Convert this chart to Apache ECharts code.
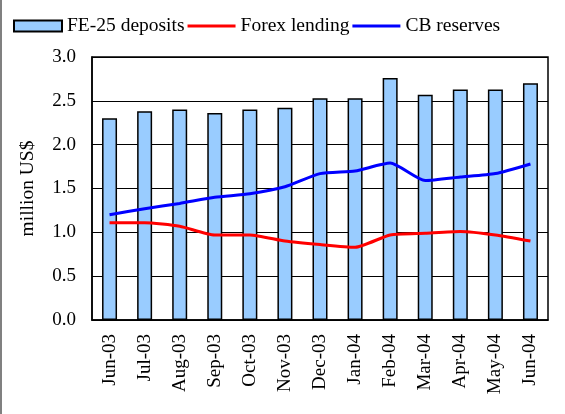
<!DOCTYPE html>
<html>
<head>
<meta charset="utf-8">
<script src="https://cdn.jsdelivr.net/npm/echarts@6/dist/echarts.min.js"></script>
<style>
    html, body { margin: 0; padding: 0; background: #fff; }
    #chart { width: 565px; height: 414px; }
</style>
</head>
<body>
<div id="chart"></div>
<script>
// 数据
var months = ['Jun-03', 'Jul-03', 'Aug-03', 'Sep-03', 'Oct-03', 'Nov-03', 'Dec-03',
    'Jan-04', 'Feb-04', 'Mar-04', 'Apr-04', 'May-04', 'Jun-04'];
var deposits = [2.30, 2.38, 2.40, 2.36, 2.40, 2.42, 2.53, 2.53, 2.76, 2.57, 2.63, 2.63, 2.70];
var forexLending = [1.11, 1.11, 1.07, 0.97, 0.97, 0.90, 0.86, 0.83, 0.97, 0.99, 1.01, 0.97, 0.90];
var cbReserves = [1.20, 1.27, 1.33, 1.40, 1.44, 1.52, 1.67, 1.70, 1.79, 1.59, 1.63, 1.67, 1.78];

var font = 'Liberation Serif';
var lineIcon = 'path://M0,0H48V3H0Z';

var option = {
    animation: false,
    legend: {
        left: 8,
        top: 11,
        itemWidth: 48,
        itemHeight: 11,
        itemGap: 3,
        textStyle: { fontFamily: font, fontSize: 19.5, color: '#000' },
        data: [
            { name: 'FE-25 deposits', icon: 'rect' },
            { name: 'Forex lending', icon: lineIcon },
            { name: 'CB reserves', icon: lineIcon }
        ]
    },
    grid: {
        left: 92,
        right: 17,
        top: 57,
        bottom: 94,
        show: true,
        borderColor: '#000',
        borderWidth: 1.5
    },
    xAxis: {
        type: 'category',
        data: months,
        axisLine: { lineStyle: { color: '#000', width: 1.5 } },
        axisTick: { length: 5, lineStyle: { color: '#000' } },
        axisLabel: {
            rotate: 90,
            margin: 14,
            fontFamily: font,
            fontSize: 19,
            color: '#000'
        }
    },
    yAxis: {
        type: 'value',
        min: 0,
        max: 3,
        interval: 0.5,
        name: 'million US$',
        nameLocation: 'middle',
        nameGap: 54,
        nameTextStyle: { fontFamily: font, fontSize: 19.5, color: '#000' },
        axisLine: { show: true, lineStyle: { color: '#000', width: 1.5 } },
        axisTick: { show: false },
        splitLine: { lineStyle: { color: '#000', width: 1 } },
        axisLabel: {
            margin: 16,
            fontFamily: font,
            fontSize: 19,
            color: '#000',
            formatter: function (v) { return v.toFixed(1); }
        }
    },
    series: [
        {
            name: 'FE-25 deposits',
            type: 'bar',
            barWidth: 15,
            data: deposits,
            itemStyle: { color: '#99CCFF', borderColor: '#000', borderWidth: 1.5 }
        },
        {
            name: 'Forex lending',
            type: 'line',
            data: forexLending,
            smooth: 0.2,
            symbol: 'none',
            z: 5,
            itemStyle: { color: '#FF0000' },
            lineStyle: { color: '#FF0000', width: 3 }
        },
        {
            name: 'CB reserves',
            type: 'line',
            data: cbReserves,
            smooth: 0.2,
            symbol: 'none',
            z: 5,
            itemStyle: { color: '#0000FF' },
            lineStyle: { color: '#0000FF', width: 3 }
        }
    ],
    graphic: [
        {
            type: 'line',
            shape: { x1: 1, y1: 0, x2: 1, y2: 414 },
            style: { stroke: '#808080', lineWidth: 2 }
        }
    ]
};

var chart = echarts.init(document.getElementById('chart'));
chart.setOption(option);
</script>
</body>
</html>
